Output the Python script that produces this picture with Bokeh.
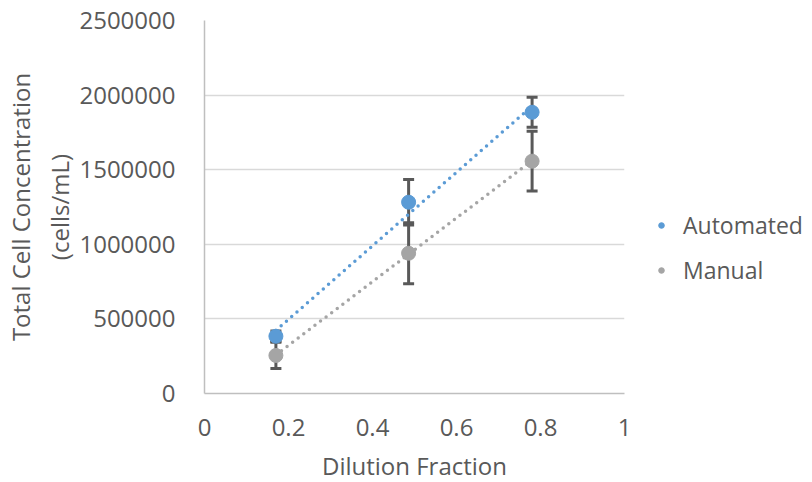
import numpy as np
from bokeh.plotting import figure
from bokeh.models import ColumnDataSource, Whisker, TeeHead, Legend, LegendItem, FixedTicker
from bokeh.embed import file_html
from bokeh.resources import INLINE

# data
dilution = [0.17, 0.486, 0.78]
automated = [384000, 1282000, 1885000]
automated_err = [35000, 152000, 100000]
manual = [255000, 940000, 1557000]
manual_err = [88000, 205000, 200000]

x_ticks = [0, 0.2, 0.4, 0.6, 0.8, 1]
x_tick_labels = ["0", "0.2", "0.4", "0.6", "0.8", "1"]
y_ticks = [0, 500000, 1000000, 1500000, 2000000, 2500000]

BLUE = "#5b9bd5"
GREY = "#a5a5a5"
TXT = "#595959"
FONT = "Open Sans"

p = figure(frame_width=420, frame_height=373,
           x_range=(0, 1), y_range=(0, 2500000),
           output_backend="svg", toolbar_location=None,
           min_border_left=203, min_border_right=189, min_border_top=20, min_border_bottom=89)
p.outline_line_color = None
p.background_fill_color = "white"

# axes
p.xaxis.ticker = FixedTicker(ticks=x_ticks)
p.xaxis.major_label_overrides = {t: l for t, l in zip(x_ticks, x_tick_labels)}
p.yaxis.ticker = FixedTicker(ticks=y_ticks)
p.yaxis.major_label_overrides = {t: str(t) for t in y_ticks}
for ax in (p.xaxis, p.yaxis):
    ax.axis_line_color = "#bfbfbf"
    ax.axis_line_width = 1.5
    ax.major_tick_line_color = None
    ax.minor_tick_line_color = None
    ax.major_label_text_font = FONT
    ax.major_label_text_font_size = "24px"
    ax.major_label_text_color = TXT
    ax.axis_label_text_font = FONT
    ax.axis_label_text_font_size = "24px"
    ax.axis_label_text_color = TXT
    ax.axis_label_text_font_style = "normal"
p.xaxis.major_label_standoff = 19
p.yaxis.major_label_standoff = 23
p.xaxis.axis_label = "Dilution Fraction"
p.xaxis.axis_label_standoff = 10
p.yaxis.axis_label = "Total Cell Concentration\n(cells/mL)"
p.yaxis.axis_label_standoff = 0

p.xgrid.grid_line_color = None
p.ygrid.grid_line_color = "#d9d9d9"
p.ygrid.grid_line_width = 1.5

# error bars
for vals, errs in ((automated, automated_err), (manual, manual_err)):
    src = ColumnDataSource(dict(x=dilution,
                                lo=[v - e for v, e in zip(vals, errs)],
                                hi=[v + e for v, e in zip(vals, errs)]))
    w = Whisker(source=src, base="x", lower="lo", upper="hi", dimension="height",
                line_color="#595959", line_width=3,
                upper_head=TeeHead(size=11, line_color="#595959", line_width=3),
                lower_head=TeeHead(size=11, line_color="#595959", line_width=3))
    p.add_layout(w)

# trendlines (least squares fits of the data)
xs = np.array(dilution)
for vals, col in ((automated, BLUE), (manual, GREY)):
    m, b = np.polyfit(xs, np.array(vals), 1)
    xe = [float(xs.min()), float(xs.max())]
    p.line(xe, [m * v + b for v in xe], line_color=col, line_width=3.5,
           line_dash="0 7", line_cap="round")

r_auto = p.scatter(dilution, automated, size=14, color=BLUE, line_color=BLUE)
r_man = p.scatter(dilution, manual, size=14, color=GREY, line_color=GREY)

# legend proxies with smaller markers
l_auto = p.scatter([-5], [0], size=11, color=BLUE)
l_man = p.scatter([-5], [0], size=11, color=GREY)
legend = Legend(items=[LegendItem(label="Automated", renderers=[l_auto]),
                       LegendItem(label="Manual", renderers=[l_man])],
                location=(30, 107), border_line_color=None, background_fill_alpha=0,
                label_text_font=FONT, label_text_font_size="23px", label_text_color=TXT,
                glyph_width=14, label_standoff=15, spacing=13, padding=0, margin=0)
p.add_layout(legend, "right")

open("out.html", "w").write(file_html(p, INLINE))
